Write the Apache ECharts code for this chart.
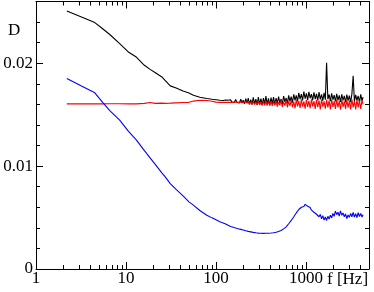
<!DOCTYPE html>
<html>
<head>
<meta charset="utf-8">
<script src="https://cdn.jsdelivr.net/npm/echarts@6/dist/echarts.min.js"></script>
<style>html,body{margin:0;padding:0;background:#fff}#c{width:374px;height:292px}</style>
</head>
<body>
<div id="c"></div>
<script>
// frequencies (Hz)
const freqLo = [2.2, 3.2, 4.5, 5.5, 6.6, 8.5, 10.6, 13, 16, 18.5, 21, 25, 27, 31, 36, 43, 50, 56, 66, 79, 90, 100, 110];
const freqHi = [120,124,128,132,136,141,145,150,155,160,165,171,176,182,188,194,200,207,214,221,228,235,243,251,259,268,277,286,295,305,315,325,336,347,358,370,382,395,408,421,435,449,464,479,495,511,528,545,563,582,601,621,641,662,684,706,730,754,778,804,830,858,886,915,945,976,1008,1041,1075,1110,1147,1184,1223,1264,1305,1348,1392,1438,1485,1534,1585,1637,1690,1746,1803,1863,1924,1987,2052,2120,2189,2261,2336,2412,2492,2574,2658,2746,2836,2929,3025,3125,3227,3333,3443,3556,3673,3793,3918,4047,4180,4300];

const blackLo = [0.02508,0.0245,0.02395,0.02335,0.02279,0.0219,0.0211,0.0206,0.0198,0.0194,0.0191,0.01867,0.01835,0.0178,0.0176,0.0173,0.0171,0.01689,0.0167,0.01657,0.0165,0.01645,0.0164];
const blackHi = [0.01638,0.01630,0.01642,0.01628,0.01640,0.01625,0.01645,0.01622,0.01638,0.01620,0.01648,0.01618,0.01636,0.01615,0.01650,0.01612,0.01640,0.01605,0.01655,0.01610,0.01662,0.01600,0.01645,0.01598,0.01668,0.01604,0.01650,0.01594,0.01672,0.01600,0.01655,0.01592,0.01660,0.01602,0.01680,0.01598,0.01658,0.01590,0.01665,0.01605,0.01670,0.01596,0.01662,0.01608,
  0.01675,0.01612,0.01652,0.01600,0.01680,0.01625,0.01662,0.01610,0.01688,0.01630,0.01676,0.01618,0.01698,0.01640,0.01688,0.01630,0.01712,0.01650,0.01700,0.01638,0.01725,0.01655,0.01708,0.01642,0.01722,0.01660,0.01700,0.01640,0.01718,0.01652,0.01702,0.01638,0.01720,0.01648,0.01698,0.01635,0.01712,0.01645,0.02005,0.01650,0.01696,0.01632,0.01708,0.01645,0.01690,0.01628,0.01702,0.01640,0.01688,0.01625,0.01698,0.01638,0.01682,0.01620,0.01696,0.01636,0.01685,0.01622,0.01700,0.01878,0.01630,0.01692,0.01640,0.01682,0.01620,0.01698,0.01635,0.01670];

const redLo = [0.01605,0.01605,0.01605,0.01605,0.01606,0.01606,0.01605,0.01605,0.0161,0.01618,0.0161,0.01612,0.0161,0.01612,0.01615,0.01618,0.0162,0.01632,0.0164,0.01638,0.0163,0.01622,0.0162];
const redHi = [0.01620,0.01618,0.01621,0.01617,0.01620,0.01616,0.01621,0.01614,0.01620,0.01613,0.01622,0.01612,0.01620,0.01610,0.01622,0.01608,0.01620,0.01606,0.01624,0.01605,0.01622,0.01602,0.01625,0.01600,0.01626,0.01598,0.01624,0.01595,0.01628,0.01594,0.01626,0.01590,0.01628,0.01592,0.01630,0.01588,0.01627,0.01590,0.01632,0.01585,
  0.01628,0.01592,0.01634,0.01578,0.01620,0.01590,0.01638,0.01575,0.01625,0.01588,0.01640,0.01570,0.01630,0.01585,0.01642,0.01572,0.01628,0.01562,0.01645,0.01580,0.01632,0.01565,0.01648,0.01578,0.01630,0.01558,0.01645,0.01575,0.01635,0.01562,0.01648,0.01580,0.01632,0.01555,0.01645,0.01572,0.01638,0.01552,0.01648,0.01578,0.01630,0.01558,0.01645,0.01570,0.01636,0.01550,0.01648,0.01575,0.01632,0.01555,0.01646,0.01570,0.01635,0.01548,0.01648,0.01575,0.01630,0.01555,0.01645,0.01568,0.01636,0.01550,0.01648,0.01572,0.01632,0.01552,0.01645,0.01570,0.01638,0.01555,0.01642,0.01600];

const blueLo = [0.01851,0.01778,0.01712,0.0162,0.01539,0.01447,0.0134,0.01255,0.0115,0.0108,0.0102,0.00935,0.009,0.0083,0.00774,0.00711,0.00652,0.00621,0.00569,0.00522,0.00497,0.00478,0.00459];
const blueHi = [0.00448,0.00443,0.00438,0.00433,0.00425,0.00419,0.00414,0.00410,0.00406,0.00402,0.00398,0.00395,0.00391,0.00388,0.00385,0.00382,0.00379,0.00376,0.00372,0.00370,0.00366,0.00364,0.00361,0.00359,0.00356,0.00355,0.00352,0.00351,0.00349,0.00348,0.00347,0.00346,0.00346,0.00345,0.00347,0.00345,0.00348,0.00346,0.00350,0.00348,0.00353,0.00350,0.00357,0.00358,0.00365,0.00366,0.00375,0.00377,0.00390,0.00394,0.00410,0.00420,0.00440,0.00452,0.00472,0.00485,0.00508,0.00522,0.00545,0.00555,
  0.00578,0.00590,0.00600,0.00612,0.00608,0.00628,0.00615,0.00610,0.00592,0.00598,0.00572,0.00585,0.00552,0.00568,0.00532,0.00548,0.00508,0.00530,0.00488,0.00518,0.00475,0.00505,0.00472,0.00512,0.00485,0.00522,0.00498,0.00540,0.00512,0.00562,0.00528,0.00552,0.00515,0.00565,0.00522,0.00545,0.00508,0.00535,0.00490,0.00525,0.00502,0.00540,0.00508,0.00550,0.00505,0.00538,0.00500,0.00548,0.00510,0.00540,0.00505,0.00528];

// axis ticks
const xMajor = [1, 10, 100, 1000];
const xMinor = [2,3,4,5,6,7,8,9,20,30,40,50,60,70,80,90,200,300,400,500,600,700,800,900,2000,3000,4000,5000];
const yMin = 0, yMax = 0.026, yStep = 0.01;

const freqs = freqLo.concat(freqHi);
const pairs = vals => freqs.map((f, i) => [f, vals[i]]);

const FONT = 'Liberation Serif';
const chart = echarts.init(document.getElementById('c'), null, {renderer: 'canvas'});

function xAx(pos, major, label) {
  return {
    type: 'log', logBase: 10, min: 1, max: 5000, position: pos,
    axisLine: {show: major, lineStyle: {color: '#000', width: 1}},
    axisTick: {show: true, inside: true, length: major ? 7 : 4, customValues: major ? xMajor : xMinor, lineStyle: {color: '#000', width: 1}},
    axisLabel: label ? {show: true, customValues: xMajor, formatter: v => String(v), fontFamily: FONT, fontSize: 17, color: '#000', margin: 1} : {show: false},
    splitLine: {show: false}, minorTick: {show: false}, minorSplitLine: {show: false}
  };
}
function yAx(pos, label) {
  return {
    type: 'value', min: yMin, max: yMax, interval: yStep, position: pos,
    axisLine: {show: true, lineStyle: {color: '#000', width: 1}},
    axisTick: {show: true, inside: true, length: 7, lineStyle: {color: '#000', width: 1}},
    minorTick: {show: true, splitNumber: 5, length: 4, lineStyle: {color: '#000', width: 1}},
    axisLabel: label ? {show: true, fontFamily: FONT, fontSize: 17, color: '#000', margin: 3, showMaxLabel: false} : {show: false},
    splitLine: {show: false}
  };
}

chart.setOption({
  animation: false,
  backgroundColor: '#fff',
  grid: {left: 36, right: 5, top: 1.5, bottom: 23, containLabel: false},
  xAxis: [xAx('bottom', true, true), xAx('bottom', false, false), xAx('top', true, false), xAx('top', false, false)],
  yAxis: [yAx('left', true), yAx('right', false)],
  graphic: [
    {type: 'text', left: 8, top: 22, style: {text: 'D', font: '17px "Liberation Serif"', fill: '#000'}},
    {type: 'text', left: 327, top: 271, style: {text: 'f [Hz]', font: '17px "Liberation Serif"', fill: '#000'}}
  ],
  series: [
    {type: 'line', name: 'black', data: pairs(blackLo.concat(blackHi)), showSymbol: false, symbol: 'none', lineStyle: {color: '#000', width: 1.1}, itemStyle: {color: '#000'}},
    {type: 'line', name: 'red', data: pairs(redLo.concat(redHi)), showSymbol: false, symbol: 'none', lineStyle: {color: '#ff0000', width: 1.1}, itemStyle: {color: '#ff0000'}},
    {type: 'line', name: 'blue', data: pairs(blueLo.concat(blueHi)), showSymbol: false, symbol: 'none', lineStyle: {color: '#0000ff', width: 1.1}, itemStyle: {color: '#0000ff'}}
  ]
});
</script>
</body>
</html>
